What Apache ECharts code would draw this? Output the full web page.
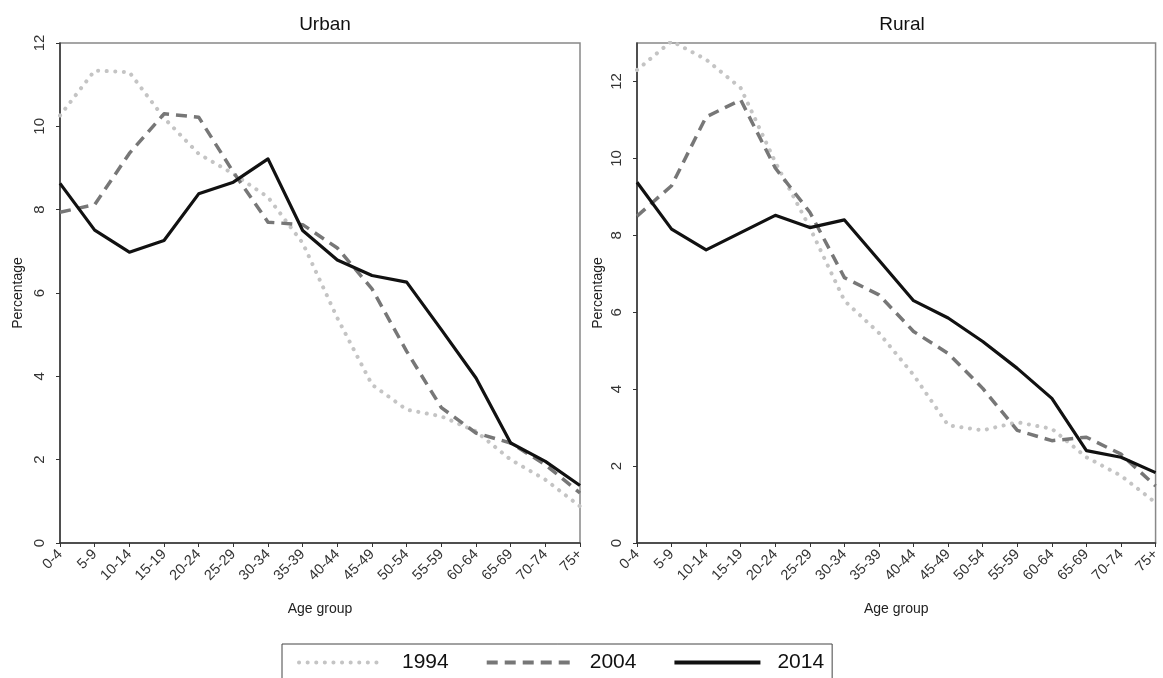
<!DOCTYPE html>
<html>
<head>
<meta charset="utf-8">
<script src="https://cdn.jsdelivr.net/npm/echarts@6/dist/echarts.min.js"></script>
<style>
html,body{margin:0;padding:0;background:#fff;}
#chart{width:1163px;height:678px;}
</style>
</head>
<body>
<div id="chart"></div>
<script>
var ageGroups = ['0-4','5-9','10-14','15-19','20-24','25-29','30-34','35-39','40-44','45-49','50-54','55-59','60-64','65-69','70-74','75+'];
var years = ['1994','2004','2014'];
var panelTitles = ['Urban','Rural'];

var urban1994 = [10.26,11.34,11.30,10.2,9.34,8.86,8.3,7.2,5.4,3.8,3.2,3.04,2.68,2.0,1.52,0.88];
var urban2004 = [7.94,8.12,9.35,10.30,10.22,8.9,7.70,7.64,7.08,6.1,4.6,3.25,2.64,2.4,1.88,1.2];
var urban2014 = [8.63,7.51,6.98,7.26,8.38,8.66,9.22,7.50,6.79,6.42,6.26,5.12,3.96,2.4,1.96,1.38];

var rural1994 = [12.3,13.05,12.57,11.83,9.9,8.2,6.3,5.46,4.37,3.06,2.93,3.14,2.97,2.23,1.75,1.05];
var rural2004 = [8.5,9.29,11.08,11.52,9.75,8.6,6.9,6.45,5.5,4.93,4.02,2.93,2.66,2.75,2.31,1.48];
var rural2014 = [9.38,8.16,7.62,8.07,8.52,8.2,8.4,7.35,6.3,5.85,5.24,4.54,3.76,2.4,2.23,1.83];

var yTicksUrban = {min:0, max:12, interval:2};
var yTicksRural = {min:0, max:13, interval:2};

var FONT = '"Liberation Sans", Arial, Helvetica, sans-serif';
var styles = [
  {color:'#c4c4c4', width:4, type:[0.1,8.5], cap:'round'},
  {color:'#777777', width:3.5, type:[11,7], cap:'butt'},
  {color:'#111111', width:3.2, type:'solid', cap:'butt'}
];

function xAxis(idx){
  return {
    type:'category', gridIndex:idx, data:ageGroups, boundaryGap:false,
    name:'Age group', nameLocation:'middle', nameGap:59,
    nameTextStyle:{fontFamily:FONT, fontSize:14, color:'#222'},
    axisLine:{show:true, lineStyle:{color:'#333', width:1.5}},
    axisTick:{show:true, alignWithLabel:true, length:4, lineStyle:{color:'#333'}},
    axisLabel:{rotate:45, interval:0, margin:9, fontFamily:FONT, fontSize:14.5, color:'#333'},
    splitLine:{show:false}
  };
}
function yAxis(idx, t, gap){
  return {
    type:'value', gridIndex:idx, min:t.min, max:t.max, interval:t.interval,
    name:'Percentage', nameLocation:'middle', nameGap:gap, nameRotate:90,
    nameTextStyle:{fontFamily:FONT, fontSize:14, color:'#222'},
    axisLine:{show:true, lineStyle:{color:'#333', width:1.5}},
    axisTick:{show:true, length:4, lineStyle:{color:'#333'}},
    axisLabel:{rotate:90, margin:13, fontFamily:FONT, fontSize:15, color:'#333', showMaxLabel: t.max % t.interval === 0},
    splitLine:{show:false}
  };
}
function series(name, data, idx, s){
  return {
    name:name, type:'line', xAxisIndex:idx, yAxisIndex:idx, data:data,
    symbol:'none', smooth:false, silent:true,
    lineStyle:{color:s.color, width:s.width, type:s.type, cap:s.cap, join:'round'},
    itemStyle:{color:s.color}
  };
}

var chart = echarts.init(document.getElementById('chart'), null, {renderer:'canvas'});
chart.setOption({
  animation:false,
  backgroundColor:'#fff',
  title:[
    {text:panelTitles[0], left:320, top:10, textAlign:'center', textStyle:{fontFamily:FONT, fontSize:19, fontWeight:'normal', color:'#111'}},
    {text:panelTitles[1], left:897, top:10, textAlign:'center', textStyle:{fontFamily:FONT, fontSize:19, fontWeight:'normal', color:'#111'}}
  ],
  grid:[
    {left:60, top:43, width:520, height:500, show:true, borderColor:'#888', borderWidth:1.5, containLabel:false},
    {left:637, top:43, width:519, height:500, show:true, borderColor:'#888', borderWidth:1.5, containLabel:false}
  ],
  xAxis:[xAxis(0), xAxis(1)],
  yAxis:[yAxis(0, yTicksUrban, 35), yAxis(1, yTicksRural, 32)],
  legend:{
    data:years.map(function(y){return {name:y};}),
    left:282, top:644,
    orient:'horizontal',
    itemWidth:86, itemHeight:14, itemGap:36,
    padding:[8,8,14,15],
    borderColor:'#444', borderWidth:1,
    itemStyle:{opacity:0},
    lineStyle:{width:4},
    textStyle:{fontFamily:FONT, fontSize:21, color:'#111', padding:[0,0,0,12]},
    selectedMode:false
  },
  series:[
    series(years[0], urban1994, 0, styles[0]),
    series(years[1], urban2004, 0, styles[1]),
    series(years[2], urban2014, 0, styles[2]),
    series(years[0], rural1994, 1, styles[0]),
    series(years[1], rural2004, 1, styles[1]),
    series(years[2], rural2014, 1, styles[2])
  ]
});
</script>
</body>
</html>
